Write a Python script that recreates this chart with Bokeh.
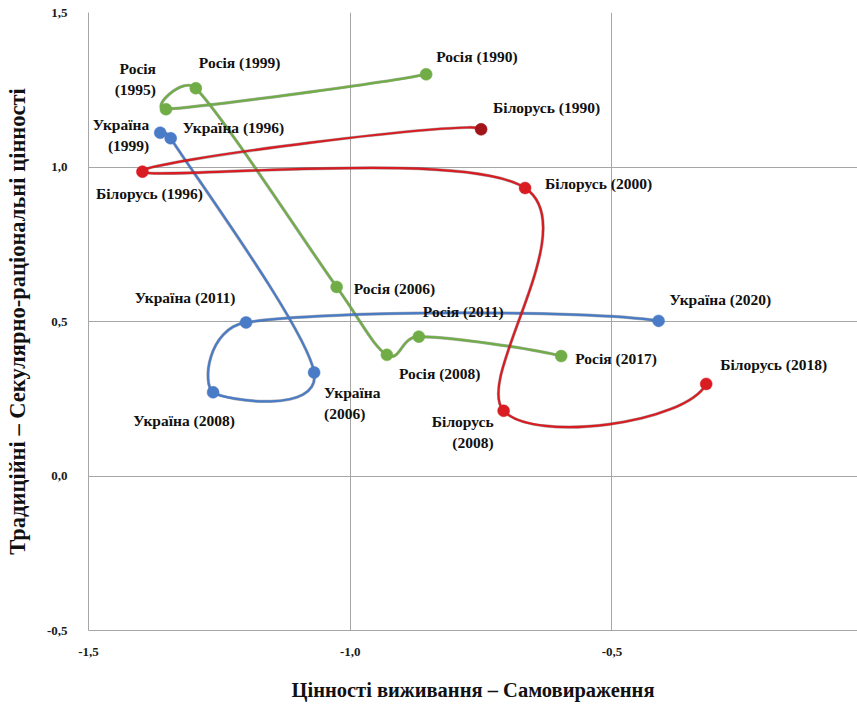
import numpy as np
from bokeh.plotting import figure
from bokeh.models import ColumnDataSource, FixedTicker, CustomJSTickFormatter, Range1d
from bokeh.core.properties import value
from bokeh.embed import file_html
from bokeh.resources import INLINE

# ---------------- data ----------------
russia_name = "Росія"
russia_years = [1990, 1995, 1999, 2006, 2008, 2011, 2017]
russia_x = [-0.855, -1.352, -1.295, -1.026, -0.930, -0.869, -0.597]
russia_y = [1.300, 1.187, 1.255, 0.612, 0.392, 0.451, 0.388]

ukraine_name = "Україна"
ukraine_years = [1999, 1996, 2006, 2008, 2011, 2020]
ukraine_x = [-1.363, -1.343, -1.069, -1.262, -1.199, -0.411]
ukraine_y = [1.111, 1.093, 0.335, 0.271, 0.497, 0.502]

belarus_name = "Білорусь"
belarus_years = [1990, 1996, 2000, 2008, 2018]
belarus_x = [-0.750, -1.397, -0.666, -0.707, -0.320]
belarus_y = [1.122, 0.985, 0.932, 0.211, 0.298]

x_ticks = [-1.5, -1.0, -0.5]
y_ticks = [-0.5, 0.0, 0.5, 1.0, 1.5]
x_title = "Цінності виживання – Самовираження"
y_title = "Традиційні – Секулярно-раціональні цінності"

# ---------------- styles / layout ----------------
GREEN = "#70AD47"
BLUE = "#4A7BC6"
RED = "#D81C22"
DARK_RED = "#A0141A"
FONT = "Liberation Serif"

W, H = 857, 706
BORDER_L, BORDER_R, BORDER_T, BORDER_B = 88, 0, 12, 76
X_RANGE = (-1.5, -0.031)
Y_RANGE = (-0.5, 1.5)

# label placement: (dx px, dy px, align, two_lines)
label_layout = {
    (russia_name, 1990): (10, -18, "left", False),
    (russia_name, 1995): (-10, -30, "right", True),
    (russia_name, 1999): (3, -26, "left", False),
    (russia_name, 2006): (17, 2, "left", False),
    (russia_name, 2008): (12, 19, "left", False),
    (russia_name, 2011): (4, -25, "left", False),
    (russia_name, 2017): (14, 2, "left", False),
    (ukraine_name, 1999): (-11, 2, "right", True),
    (ukraine_name, 1996): (12, -11, "left", False),
    (ukraine_name, 2006): (10, 31, "left", True),
    (ukraine_name, 2008): (-29, 28, "center", False),
    (ukraine_name, 2011): (-61, -25, "center", False),
    (ukraine_name, 2020): (11, -21, "left", False),
    (belarus_name, 1990): (12, -22, "left", False),
    (belarus_name, 1996): (7, 22, "center", False),
    (belarus_name, 2000): (20, -5, "left", False),
    (belarus_name, 2008): (-10, 21, "right", True),
    (belarus_name, 2018): (14, -19, "left", False),
}
LINE_GAP = 21

p = figure(width=W, height=H,
           x_range=Range1d(*X_RANGE), y_range=Range1d(*Y_RANGE),
           output_backend="svg", toolbar_location=None,
           min_border_left=BORDER_L, min_border_right=BORDER_R,
           min_border_top=BORDER_T, min_border_bottom=BORDER_B)
p.outline_line_color = None
p.background_fill_color = "white"

fmt = CustomJSTickFormatter(code="return tick.toFixed(1).replace('.', ',');")
p.xaxis.ticker = FixedTicker(ticks=x_ticks)
p.yaxis.ticker = FixedTicker(ticks=y_ticks)
p.xgrid.ticker = FixedTicker(ticks=x_ticks)
p.ygrid.ticker = FixedTicker(ticks=y_ticks)
p.xaxis.formatter = fmt
p.yaxis.formatter = fmt
for g in (p.xgrid, p.ygrid):
    g.grid_line_color = "#A6A6A6"
    g.grid_line_width = 1
for ax in (p.xaxis, p.yaxis):
    ax.axis_line_color = "#A6A6A6"
    ax.major_tick_line_color = None
    ax.minor_tick_line_color = None
    ax.major_label_text_font = FONT
    ax.major_label_text_font_style = "bold"
    ax.major_label_text_font_size = "13px"
    ax.major_label_text_color = "#1a1a1a"
    ax.axis_label_text_font = FONT
    ax.axis_label_text_font_style = "bold"
    ax.axis_label_text_color = "#111111"
p.xaxis.axis_label_text_font_size = "20.5px"
p.yaxis.axis_label_text_font_size = "22.5px"
p.xaxis.axis_label = x_title
p.yaxis.axis_label = y_title
p.xaxis.major_label_standoff = 11
p.xaxis.axis_label_standoff = 20
p.yaxis.major_label_standoff = 15
p.yaxis.axis_label_standoff = 14

# pixel scale of the frame (used so that curve handles are limited in screen space)
SX = (W - BORDER_L - BORDER_R) / (X_RANGE[1] - X_RANGE[0])
SY = (H - BORDER_T - BORDER_B) / (Y_RANGE[1] - Y_RANGE[0])
HANDLE_CAP = 0.5  # max handle length as fraction of its segment length


def smooth_segments(xs, ys):
    P = np.column_stack([np.asarray(xs) * SX, np.asarray(ys) * SY]).astype(float)
    n = len(P)
    tang = []
    for i in range(n):
        if 0 < i < n - 1:
            tang.append((P[i + 1] - P[i - 1]) / 6.0)
        else:
            tang.append(None)
    ctrl = []
    for i in range(n - 1):
        p1, p2 = P[i], P[i + 1]
        L = np.linalg.norm(p2 - p1)
        def capped(h):
            m = np.linalg.norm(h)
            return h if m <= HANDLE_CAP * L or m == 0 else h * (HANDLE_CAP * L / m)
        c1 = p1 + capped(tang[i]) if tang[i] is not None else None
        c2 = p2 - capped(tang[i + 1]) if tang[i + 1] is not None else None
        d = p2 - p1
        u = d / L
        if c1 is None and c2 is None:
            c1, c2 = p1 + d / 3.0, p2 - d / 3.0
        elif c1 is None:
            v = c2 - p2
            c1 = p1 + (v - 2 * np.dot(v, u) * u)
        elif c2 is None:
            v = c1 - p1
            c2 = p2 + (v - 2 * np.dot(v, u) * u)
        ctrl.append((p1, c1, c2, p2))
    out = {k: [] for k in ("x0", "y0", "x1", "y1", "cx0", "cy0", "cx1", "cy1")}
    for p1, c1, c2, p2 in ctrl:
        out["x0"].append(p1[0] / SX); out["y0"].append(p1[1] / SY)
        out["x1"].append(p2[0] / SX); out["y1"].append(p2[1] / SY)
        out["cx0"].append(c1[0] / SX); out["cy0"].append(c1[1] / SY)
        out["cx1"].append(c2[0] / SX); out["cy1"].append(c2[1] / SY)
    return ColumnDataSource(out)


series = [
    (russia_name, russia_years, russia_x, russia_y, GREEN),
    (ukraine_name, ukraine_years, ukraine_x, ukraine_y, BLUE),
    (belarus_name, belarus_years, belarus_x, belarus_y, RED),
]

for name, years, xs, ys, color in series:
    seg = smooth_segments(xs, ys)
    p.bezier(x0="x0", y0="y0", x1="x1", y1="y1", cx0="cx0", cy0="cy0",
             cx1="cx1", cy1="cy1", source=seg, line_color="#202020",
             line_width=3.2, line_alpha=0.35)
    p.bezier(x0="x0", y0="y0", x1="x1", y1="y1", cx0="cx0", cy0="cy0",
             cx1="cx1", cy1="cy1", source=seg, line_color=color, line_width=2.2)

for name, years, xs, ys, color in series:
    colors = [DARK_RED if (name == belarus_name and yr == 1990) else color for yr in years]
    p.scatter(x=xs, y=ys, size=12, fill_color=colors, line_color=colors, line_width=0.5)

# labels
groups = {}
for name, years, xs, ys, color in series:
    for yr, x, y in zip(years, xs, ys):
        dx, dy, align, two = label_layout[(name, yr)]
        lines = [name, f"({yr})"] if two else [f"{name} ({yr})"]
        nl = len(lines)
        for k, t in enumerate(lines):
            off = dy + (k - (nl - 1) / 2.0) * LINE_GAP
            g = groups.setdefault(align, {"x": [], "y": [], "t": [], "dx": [], "dy": []})
            g["x"].append(x); g["y"].append(y); g["t"].append(t)
            g["dx"].append(dx); g["dy"].append(off)

for align, g in groups.items():
    src = ColumnDataSource(g)
    p.text(x="x", y="y", text="t", x_offset="dx", y_offset="dy", source=src,
           text_align=align, text_baseline="middle",
           text_font=value(FONT), text_font_style="bold",
           text_font_size="15.5px", text_color="#111111")

open("out.html", "w").write(file_html(p, INLINE))
